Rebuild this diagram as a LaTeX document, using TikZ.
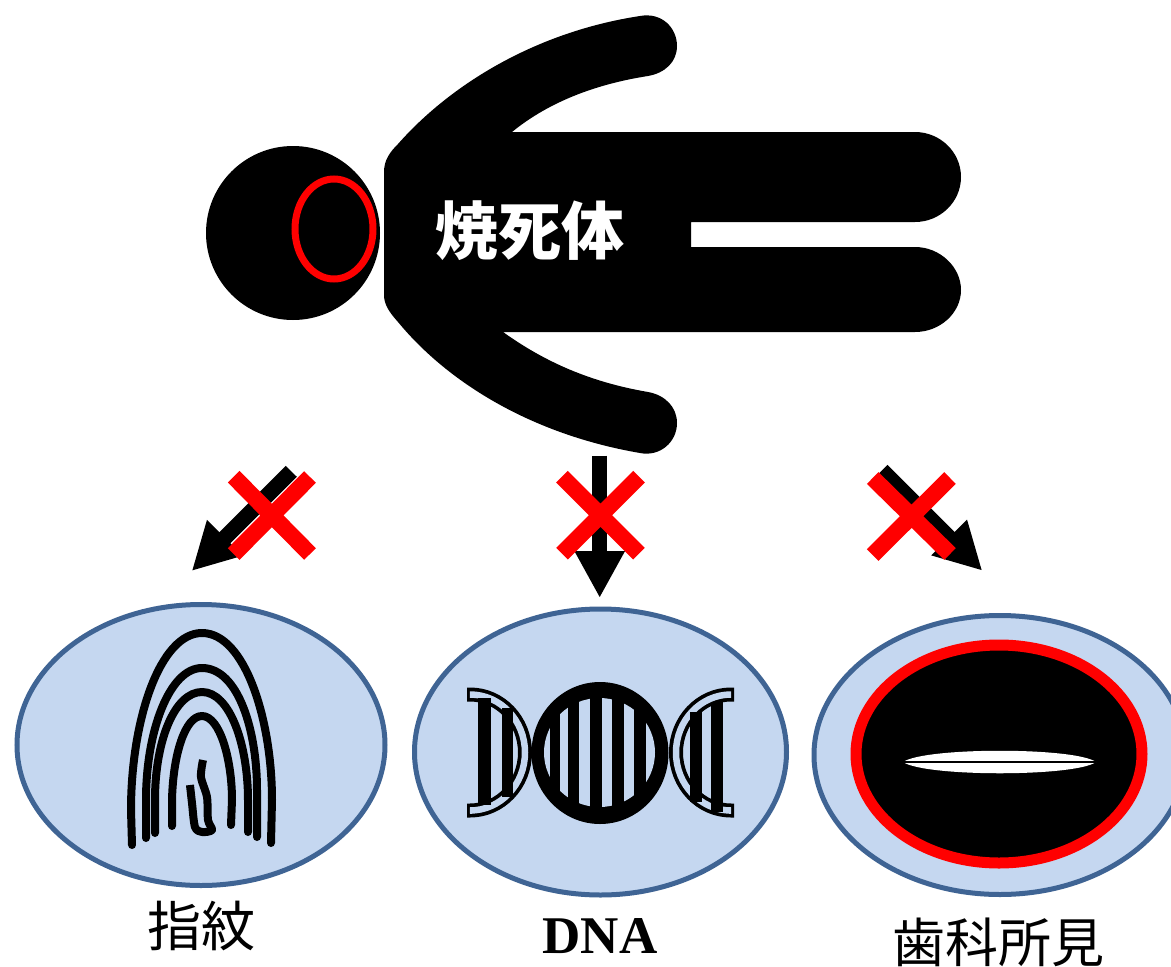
\documentclass[tikz,border=0pt]{standalone}
\usepackage{fontspec}
\usetikzlibrary{shapes.geometric,arrows.meta}
\newfontfamily\cjkfont{Noto Sans CJK JP}
\setmainfont{Liberation Serif}
\definecolor{ovaledge}{HTML}{3F6494}
\definecolor{ovalfill}{HTML}{C5D7F0}
\definecolor{crossred}{HTML}{FF0000}
\tikzset{
  oval/.style={ellipse,draw=ovaledge,fill=ovalfill,line width=5pt,inner sep=0pt,minimum width=372pt,minimum height=284pt},
  redcross/.style={draw=crossred,line width=16.5pt,line cap=butt},
  ridge/.style={draw=black,line width=8pt,line cap=round,line join=round},
  bigarrow/.style={draw=black,line width=15.5pt,-{Triangle[length=47pt,width=47pt]},shorten >=0pt},
  caption/.style={text=black,inner sep=0pt,font=\cjkfont\fontsize{53}{53}\selectfont},
}
\begin{document}
\begin{tikzpicture}[x=1pt,y=-1pt]
\useasboundingbox (0,0) rectangle (1171,967);
% person
\fill[black] (293,233) circle[radius=87];
\fill[black] (384,172)
  .. controls (384,160) and (390,152) .. (398,144)
  .. controls (450,85) and (535,32) .. (640,16)
  .. controls (662,12) and (677,28) .. (677,46)
  .. controls (677,62) and (665,73) .. (648,76)
  .. controls (590,85) and (545,105) .. (512,132)
  -- (915,132)
  .. controls (940,132) and (961,152) .. (961,177)
  .. controls (961,202) and (940,222) .. (915,222)
  -- (691,222) -- (691,247) -- (915,247)
  .. controls (940,247) and (961,267) .. (961,290)
  .. controls (961,313) and (940,332) .. (915,332)
  -- (503,332)
  .. controls (545,362) and (590,382) .. (648,392)
  .. controls (665,395) and (677,407) .. (677,423)
  .. controls (677,442) and (660,457) .. (640,453)
  .. controls (535,435) and (450,385) .. (398,322)
  .. controls (390,313) and (384,305) .. (384,295)
  -- cycle;
\draw[crossred,line width=7pt] (334,229) ellipse[x radius=39,y radius=50];
\node[text=white,inner sep=0pt,font=\cjkfont\bfseries\fontsize{63}{63}\selectfont] (title) at (530,231) {焼死体};
% arrows
\coordinate (a1s) at (291.3,471.3); \coordinate (a1e) at (191.7,571);
\coordinate (a2s) at (599.7,455.7); \coordinate (a2e) at (599.7,598);
\coordinate (a3s) at (882,470.3);   \coordinate (a3e) at (982.3,570.7);
\draw[bigarrow] (a1s) -- (a1e);
\draw[bigarrow] (a2s) -- (a2e);
\draw[bigarrow] (a3s) -- (a3e);
% crosses
\draw[redcross] (233.7,476.7) -- (310,554) (310,477) -- (233.7,554);
\draw[redcross] (562,476.7) -- (639,553.7) (639,476.7) -- (562,553.7);
\draw[redcross] (872.7,478) -- (950,554) (950,478) -- (872.7,555);
% ovals
\node[oval,minimum width=368pt,minimum height=281pt] (finger) at (201,745) {};
\node[oval,minimum height=286pt] (dna) at (600.5,752) {};
\node[oval,minimum height=279pt] (teeth) at (1000,755) {};
% fingerprint
\draw[ridge] (132,845) -- (131,810) .. controls (131,720) and (160,633) .. (202,633) .. controls (245,633) and (272,720) .. (272,800) -- (271,843);
\draw[ridge] (146,838) -- (146,800) .. controls (146,730) and (170,668) .. (202,668) .. controls (238,668) and (257,730) .. (257,790) -- (257,837);
\draw[ridge] (155,833) -- (155,800) .. controls (155,740) and (175,692) .. (202,692) .. controls (230,692) and (248,745) .. (248,800) -- (248,832);
\draw[ridge] (172,826) -- (172,800) .. controls (173,755) and (185,716) .. (202,716) .. controls (220,716) and (232,760) .. (232,800) -- (231,825);
\draw[ridge,line cap=butt] plot[smooth,tension=.5] coordinates {(203,760) (201,777) (207,797) (208,820) (212,830) (202,832) (195,827) (192,803) (190,785)};
% DNA
\draw[black,line width=14pt] (467,694.5) -- (470,694.5) arc[start angle=-90,end angle=90,x radius=55,y radius=58] -- (467,810.5);
\draw[ovalfill,line width=6.5pt] (472,694.5) -- (470,694.5) arc[start angle=-90,end angle=90,x radius=55,y radius=58] -- (472,810.5);
\draw[black,line width=14pt] (734,694.5) -- (731,694.5) arc[start angle=-90,end angle=-270,x radius=55,y radius=58] -- (734,810.5);
\draw[ovalfill,line width=6.5pt] (729,694.5) -- (731,694.5) arc[start angle=-90,end angle=-270,x radius=55,y radius=58] -- (729,810.5);
\fill[black] (478,698) rectangle (491,805);
\fill[black] (502,708) rectangle (513,797);
\fill[black] (690,712) rectangle (702,802);
\fill[black] (711,702) rectangle (723,812);
\fill[black] (600,753) ellipse[x radius=68.5,y radius=71];
\begin{scope}
\clip (599.5,752.5) ellipse[x radius=55.5,y radius=54.5];
\fill[ovalfill] (544,690) rectangle (550,815);
\fill[ovalfill] (560,690) rectangle (568.3,815);
\fill[ovalfill] (579.3,690) rectangle (590,815);
\fill[ovalfill] (601.7,690) rectangle (612.3,815);
\fill[ovalfill] (624,690) rectangle (634.3,815);
\fill[ovalfill] (645.7,690) rectangle (656,815);
\end{scope}
% mouth
\draw[crossred,fill=black,line width=11pt] (999,754) ellipse[x radius=143,y radius=109];
\fill[white] (903,762) .. controls (925,747) and (1075,747) .. (1096,762) .. controls (1075,777) and (925,777) .. (903,762) -- cycle;
\fill[black] (903,760.5) rectangle (1096,762.5);
% captions
\node[caption,font=\cjkfont\fontsize{54}{54}\selectfont] (cap1) at (201,926) {指紋};
\node[caption,font=\rmfamily\bfseries\fontsize{53}{53}\selectfont] (cap2) at (600,936) {DNA};
\node[caption] (cap3) at (998,942) {歯科所見};
\end{tikzpicture}
\end{document}
